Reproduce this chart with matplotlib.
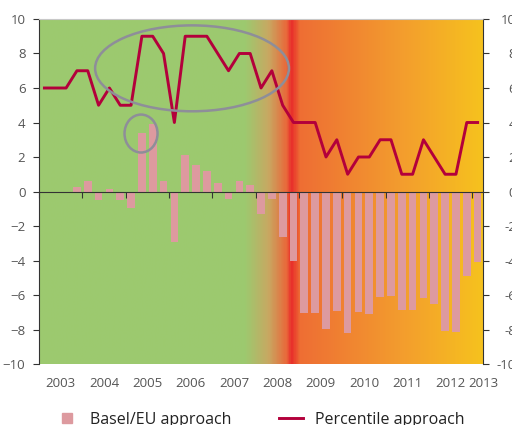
import numpy as np
from matplotlib import pyplot as plt
from matplotlib.colors import LinearSegmentedColormap
from matplotlib.lines import Line2D
from matplotlib.patches import Ellipse

plt.rcParams['font.family'] = ['Open Sans', 'DejaVu Sans']

# quarterly data, 2003Q1 - 2013Q1
years = [2003, 2004, 2005, 2006, 2007, 2008, 2009, 2010, 2011, 2012, 2013]
quarters = [f"{y}Q{q}" for y in years[:-1] for q in range(1, 5)] + ["2013Q1"]

basel_eu = [0, 0, 0, 0.25, 0.63, -0.48, 0.12, -0.48, -0.97, 3.4,
            3.92, 0.6, -2.94, 2.13, 1.56, 1.21, 0.48, -0.44, 0.63, 0.37,
            -1.31, -0.44, -2.63, -4.02, -7.03, -7.03, -7.96, -6.92, -8.19, -6.98,
            -7.11, -6.09, -6.05, -6.88, -6.88, -6.2, -6.53, -8.08, -8.15, -4.91,
            -4.08]
percentile = [6, 6, 6, 7, 7, 5, 6, 5, 5, 9,
              9, 8, 4, 9, 9, 9, 8, 7, 8, 8,
              6, 7, 5, 4, 4, 4, 2, 3, 1, 2,
              2, 3, 3, 1, 1, 3, 2, 1, 1, 4,
              4]
y_ticks = [-10, -8, -6, -4, -2, 0, 2, 4, 6, 8, 10]

x = np.arange(len(quarters))
x0, x1 = -0.5, len(quarters) - 0.5

fig = plt.figure(figsize=(5.12, 4.25), dpi=100)
ax = fig.add_axes([0.0762, 0.1435, 0.8672, 0.8118])

# background: green -> red -> orange -> yellow
bg = LinearSegmentedColormap.from_list('bg', [
    (0.0, '#9cca6f'), (0.464, '#9dc96f'), (0.516, '#c8a862'),
    (0.557, '#e9683a'), (0.568, '#e82c2a'), (0.588, '#ee6e34'),
    (0.813, '#f39c2e'), (1.0, '#f6c21e')])
ax.imshow(np.linspace(0, 1, 600)[None, :], cmap=bg, aspect='auto',
          extent=(x0, x1, -10, 10), zorder=0, interpolation='bilinear')

ax.bar(x, basel_eu, width=0.71, color='#dd9a9f', zorder=2)
ax.plot(x, percentile, color='#b3003b', lw=2.1, zorder=3)

ax.add_patch(Ellipse((13.63, 7.14), 17.9, 4.98, fill=False,
                     ec='#8e8e99', lw=1.8, zorder=4))
ax.add_patch(Ellipse((8.92, 3.36), 3.05, 2.2, fill=False,
                     ec='#8e8e99', lw=1.8, zorder=4))

ax.set_xlim(x0, x1)
ax.set_ylim(-10, 10)

# x axis line sits on zero, year labels at the bottom
ax.spines['bottom'].set_position(('data', 0))
ax.spines['bottom'].set_color('#333333')
ax.spines['bottom'].set_zorder(5)
ax.set_xticks(np.arange(x0, x1, 4))
ax.tick_params(axis='x', direction='out', length=4, color='#333333',
               labelbottom=False)
ax.spines['top'].set_color('#c8c8c8')
ax.spines['left'].set_color('#333333')
ax.spines['right'].set_color('#333333')

sec = ax.secondary_xaxis('bottom')
year_pos = list(np.arange(x0 + 2, x1 - 1, 4)) + [x1]
sec.set_xticks(year_pos, [str(y) for y in years])
sec.tick_params(length=0, pad=9, labelsize=9.5, labelcolor='#555555')
sec.spines['bottom'].set_visible(False)

ax.set_yticks(y_ticks)
ax.tick_params(axis='y', direction='out', length=4.3, pad=5.5,
               labelsize=9.5, labelcolor='#555555', color='#333333')

ax2 = ax.twinx()
ax2.set_ylim(-10, 10)
ax2.set_yticks(y_ticks, [str(v) for v in y_ticks])
ax2.tick_params(axis='y', direction='out', length=4.3, pad=19.5,
                labelsize=9.5, labelcolor='#555555', color='#333333')
for lbl in ax2.get_yticklabels():
    lbl.set_horizontalalignment('right')
for s in ax2.spines.values():
    s.set_visible(False)

handles = [Line2D([], [], ls='none', marker='s', ms=7.2, color='#dd9a9f'),
           Line2D([], [], color='#b3003b', lw=2.1)]
fig.legend(handles, ['Basel/EU approach', 'Percentile approach'],
           loc='center', bbox_to_anchor=(0.507, 0.012), ncol=2, frameon=False,
           fontsize=11.5, handlelength=1.5, handletextpad=0.7, columnspacing=3,
           labelcolor='#222222')

fig.savefig('out.png', dpi=100)
